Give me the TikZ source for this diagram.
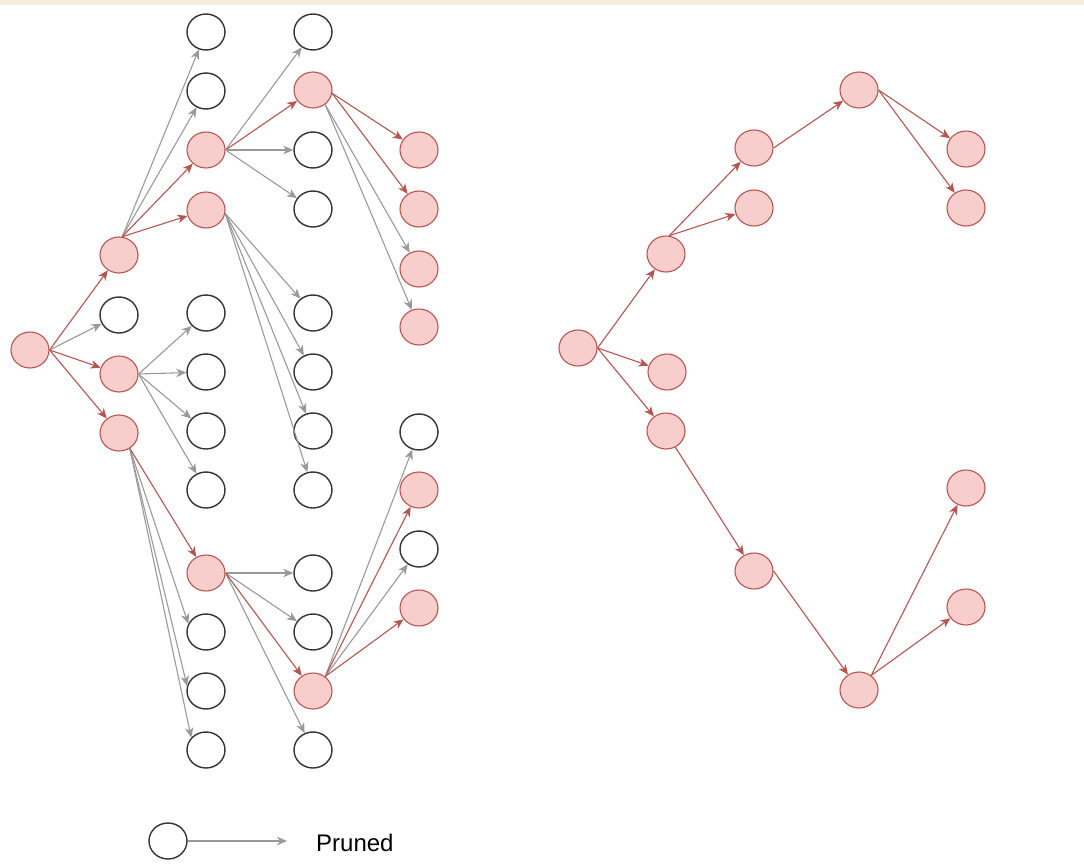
\documentclass[tikz,border=0pt]{standalone}
\usepackage{fontspec}
\setmainfont{Liberation Sans}
\usetikzlibrary{arrows.meta}
\definecolor{keptfill}{HTML}{F8CECC}
\definecolor{keptline}{HTML}{B85450}
\definecolor{prunedline}{HTML}{999999}
\definecolor{bandcol}{HTML}{F5EBDF}
\tikzset{
  state/.style={ellipse, minimum width=38pt, minimum height=36pt, inner sep=0pt},
  kept/.style={state, draw=keptline, fill=keptfill, line width=1.1pt},
  pruned/.style={state, draw=black!80, fill=white, line width=1.4pt},
  tip/.style={-{Stealth[length=10pt,width=8.5pt,inset=3pt]}},
  keptedge/.style={tip, draw=keptline, line width=1.1pt},
  prunededge/.style={tip, draw=prunedline, line width=1.1pt},
}
\usetikzlibrary{shapes.geometric}
\begin{document}
\begin{tikzpicture}[x=1pt, y=-1pt]
\useasboundingbox (0,0) rectangle (1084,864);
\fill[bandcol] (0,0) rectangle (1084,5);

% ---------- full search tree ----------
\node[kept]   (r)  at (30,350) {};
\node[kept]   (a1) at (119,255) {};
\node[pruned] (a2) at (119,315) {};
\node[kept]   (a3) at (119,374) {};
\node[kept]   (a4) at (119,433) {};

\node[pruned] (b1)  at (206,32) {};
\node[pruned] (b2)  at (206,91) {};
\node[kept]   (b3)  at (206,150) {};
\node[kept]   (b4)  at (206,210) {};
\node[pruned] (b5)  at (206,313) {};
\node[pruned] (b6)  at (206,372) {};
\node[pruned] (b7)  at (206,431) {};
\node[pruned] (b8)  at (206,490) {};
\node[kept]   (b9)  at (206,573) {};
\node[pruned] (b10) at (206,632) {};
\node[pruned] (b11) at (206,691) {};
\node[pruned] (b12) at (206,750) {};

\node[pruned] (c1)  at (313,32) {};
\node[kept]   (c2)  at (313,90) {};
\node[pruned] (c3)  at (313,150) {};
\node[pruned] (c4)  at (313,209) {};
\node[pruned] (c5)  at (313,313) {};
\node[pruned] (c6)  at (313,372) {};
\node[pruned] (c7)  at (313,431) {};
\node[pruned] (c8)  at (313,490) {};
\node[pruned] (c9)  at (313,573) {};
\node[pruned] (c10) at (313,632) {};
\node[kept]   (c11) at (313,691) {};
\node[pruned] (c12) at (313,750) {};

\node[kept]   (d1) at (419,150) {};
\node[kept]   (d2) at (419,209) {};
\node[kept]   (d3) at (419,269) {};
\node[kept]   (d4) at (419,327) {};
\node[pruned] (d5) at (419,432) {};
\node[kept]   (d6) at (419,490) {};
\node[pruned] (d7) at (419,549) {};
\node[kept]   (d8) at (419,608) {};

\draw[keptedge]   (r.east) -- (a1);
\draw[prunededge] (r.east) -- (a2);
\draw[keptedge]   (r.east) -- (a3);
\draw[keptedge]   (r.east) -- (a4);

\draw[prunededge] (a1.80) -- (b1);
\draw[prunededge] (a1.80) -- (b2);
\draw[keptedge]   (a1.80) -- (b3);
\draw[keptedge]   (a1.80) -- (b4);

\draw[prunededge] (a3.east) -- (b5);
\draw[prunededge] (a3.east) -- (b6);
\draw[prunededge] (a3.east) -- (b7);
\draw[prunededge] (a3.east) -- (b8);

\draw[prunededge] (a4.-55) -- (b10.155);
\draw[prunededge] (a4.-55) -- (b11.165);
\draw[prunededge] (a4.-55) -- (b12.140);
\draw[keptedge]   (a4.-55) -- (b9);

\draw[prunededge] (b3.east) -- (c1);
\draw[keptedge]   (b3.east) -- (c2);
\draw[prunededge] (b3.east) -- (c3);
\draw[prunededge] (b3.east) -- (c4);

\draw[prunededge] (b4.-10) -- (c5);
\draw[prunededge] (b4.-10) -- (c6);
\draw[prunededge] (b4.-10) -- (c7);
\draw[prunededge] (b4.-10) -- (c8);

\draw[prunededge] (b9.east) -- (c9);
\draw[prunededge] (b9.east) -- (c10);
\draw[prunededge] (b9.east) -- (c12);
\draw[keptedge]   (b9.east) -- (c11);

\draw[keptedge]   (c2.-10) -- (d1);
\draw[keptedge]   (c2.-10) -- (d2);
\draw[prunededge] (c2.-50) -- (d3);
\draw[prunededge] (c2.-50) -- (d4);

\draw[prunededge] (c11.50) -- (d5);
\draw[keptedge]   (c11.50) -- (d6);
\draw[prunededge] (c11.50) -- (d7);
\draw[keptedge]   (c11.50) -- (d8);

% ---------- tree after pruning ----------
\node[kept] (p0) at (578,348) {};
\node[kept] (pa) at (666,254) {};
\node[kept] (pb) at (667,372) {};
\node[kept] (pc) at (666,431) {};
\node[kept] (pd) at (754,148) {};
\node[kept] (pe) at (754,208) {};
\node[kept] (pf) at (859,90) {};
\node[kept] (pg) at (966,149) {};
\node[kept] (ph) at (966,208) {};
\node[kept] (pi) at (754,571) {};
\node[kept] (pj) at (859,690) {};
\node[kept] (pk) at (966,488) {};
\node[kept] (pl) at (966,607) {};

\draw[keptedge] (p0.east) -- (pa);
\draw[keptedge] (p0.east) -- (pb);
\draw[keptedge] (p0.east) -- (pc);
\draw[keptedge] (pa.80) -- (pd);
\draw[keptedge] (pa.80) -- (pe);
\draw[keptedge] (pd.east) -- (pf);
\draw[keptedge] (pf.east) -- (pg);
\draw[keptedge] (pf.east) -- (ph);
\draw[keptedge] (pc.-60) -- (pi);
\draw[keptedge] (pi.east) -- (pj);
\draw[keptedge] (pj.50) -- (pk);
\draw[keptedge] (pj.50) -- (pl);

% ---------- legend ----------
\node[pruned] (lg) at (168,841) {};
\coordinate (lgend) at (287,841);
\draw[prunededge] (lg.east) -- (lgend);
\node[anchor=west, inner sep=0pt, font=\fontsize{24pt}{27pt}\selectfont] (lgtext) at (316,843) {Pruned};
\end{tikzpicture}
\end{document}
